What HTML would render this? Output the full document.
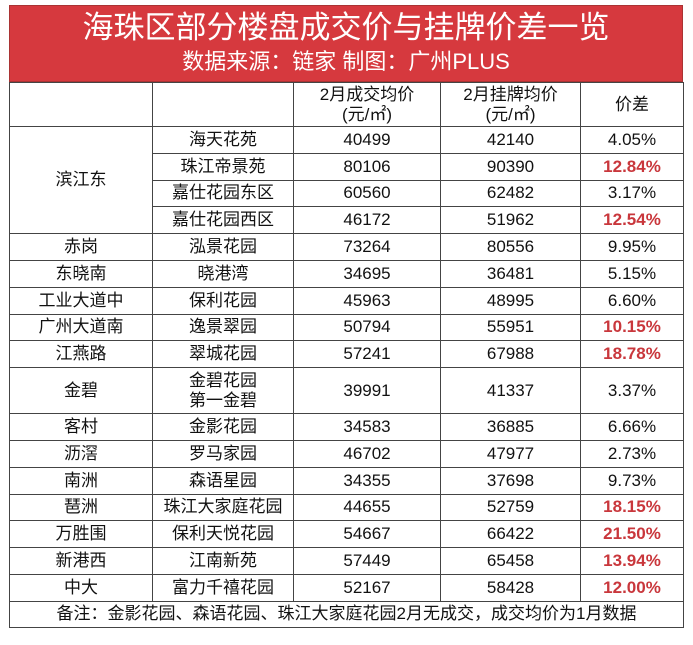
<!DOCTYPE html>
<html><head><meta charset="utf-8"><style>
body{margin:0;background:#fff;width:693px;height:645px;overflow:hidden;font-family:"Liberation Sans","Noto Sans CJK SC",sans-serif;}
#hd{position:absolute;left:9px;top:5px;width:674px;height:77px;background:#d6393e;color:#fff;text-align:center;border:1px solid #a33;box-sizing:border-box}
#t1{font-size:31px;line-height:40px;margin-top:2px}
#t2{font-size:22px;line-height:28px}
table{position:absolute;left:9px;top:82px;border-collapse:collapse;width:674px;table-layout:fixed}
td{border:1px solid #444;text-align:center;font-size:17px;color:#111;padding:0;line-height:20px}
.r{color:#c9373c;font-weight:bold}
</style></head><body>
<div id="hd"><div id="t1">海珠区部分楼盘成交价与挂牌价差一览</div><div id="t2">数据来源：链家 制图：广州PLUS</div></div>
<table>
<colgroup><col style="width:143px"><col style="width:141px"><col style="width:147px"><col style="width:140px"><col style="width:103px"></colgroup>
<tbody id="tb">
<tr style="height:44px"><td></td><td></td><td>2月成交均价<br>(元/㎡)</td><td>2月挂牌均价<br>(元/㎡)</td><td>价差</td></tr>
</tbody></table>
<script>
const areas=["滨江东","","","","赤岗","东晓南","工业大道中","广州大道南","江燕路","金碧","客村","沥滘","南洲","琶洲","万胜围","新港西","中大"];
const estates=["海天花苑","珠江帝景苑","嘉仕花园东区","嘉仕花园西区","泓景花园","晓港湾","保利花园","逸景翠园","翠城花园","金碧花园<br>第一金碧","金影花园","罗马家园","森语星园","珠江大家庭花园","保利天悦花园","江南新苑","富力千禧花园"];
const deal=[40499,80106,60560,46172,73264,34695,45963,50794,57241,39991,34583,46702,34355,44655,54667,57449,52167];
const list=[42140,90390,62482,51962,80556,36481,48995,55951,67988,41337,36885,47977,37698,52759,66422,65458,58428];
const diff=["4.05%","12.84%","3.17%","12.54%","9.95%","5.15%","6.60%","10.15%","18.78%","3.37%","6.66%","2.73%","9.73%","18.15%","21.50%","13.94%","12.00%"];
const tb=document.getElementById('tb');
for(let i=0;i<deal.length;i++){
 const tr=document.createElement('tr');
 
 
 tr.style.height=(i==9?46:26.8)+'px';
 let h='';
 if(i==0)h+='<td rowspan="4">滨江东</td>';else if(i>3)h+='<td>'+areas[i]+'</td>';
 const red=parseFloat(diff[i])>=10;
 h+='<td>'+estates[i]+'</td><td>'+deal[i]+'</td><td>'+list[i]+'</td><td class="'+(red?'r':'')+'">'+diff[i]+'</td>';
 tr.innerHTML=h;tb.appendChild(tr);
}
const n=document.createElement('tr');


n.style.height='26px';
n.innerHTML='<td colspan="5">备注：金影花园、森语花园、珠江大家庭花园2月无成交，成交均价为1月数据</td>';
tb.appendChild(n);
</script>
</body></html>
